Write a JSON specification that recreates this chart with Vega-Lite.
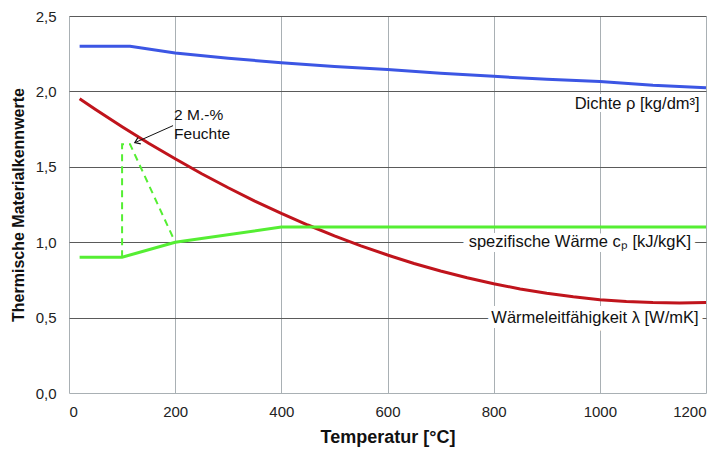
{
  "$schema": "https://vega.github.io/schema/vega-lite/v6.json",
  "width": 637,
  "height": 377,
  "autosize": {"type": "none"},
  "padding": {"left": 69, "top": 16, "right": 20, "bottom": 63},
  "background": "white",
  "config": {
    "font": "Liberation Sans",
    "view": {"stroke": null},
    "axis": {"labelFont": "Liberation Sans", "titleFont": "Liberation Sans", "labelColor": "#222", "titleColor": "#111"}
  },
  "datasets": {
    "lines": [
      {"series": "rho", "T": 20, "v": 2.30},
      {"series": "rho", "T": 115, "v": 2.30},
      {"series": "rho", "T": 200, "v": 2.255},
      {"series": "rho", "T": 300, "v": 2.22},
      {"series": "rho", "T": 400, "v": 2.19},
      {"series": "rho", "T": 500, "v": 2.165},
      {"series": "rho", "T": 600, "v": 2.145},
      {"series": "rho", "T": 700, "v": 2.12},
      {"series": "rho", "T": 800, "v": 2.10},
      {"series": "rho", "T": 900, "v": 2.08},
      {"series": "rho", "T": 1000, "v": 2.065},
      {"series": "rho", "T": 1100, "v": 2.04},
      {"series": "rho", "T": 1200, "v": 2.025},
      {"series": "lambda", "T": 20, "v": 1.951},
      {"series": "lambda", "T": 50, "v": 1.88},
      {"series": "lambda", "T": 100, "v": 1.766},
      {"series": "lambda", "T": 150, "v": 1.656},
      {"series": "lambda", "T": 200, "v": 1.553},
      {"series": "lambda", "T": 250, "v": 1.454},
      {"series": "lambda", "T": 300, "v": 1.361},
      {"series": "lambda", "T": 350, "v": 1.273},
      {"series": "lambda", "T": 400, "v": 1.191},
      {"series": "lambda", "T": 450, "v": 1.114},
      {"series": "lambda", "T": 500, "v": 1.042},
      {"series": "lambda", "T": 550, "v": 0.976},
      {"series": "lambda", "T": 600, "v": 0.915},
      {"series": "lambda", "T": 650, "v": 0.859},
      {"series": "lambda", "T": 700, "v": 0.809},
      {"series": "lambda", "T": 750, "v": 0.764},
      {"series": "lambda", "T": 800, "v": 0.724},
      {"series": "lambda", "T": 850, "v": 0.690},
      {"series": "lambda", "T": 900, "v": 0.661},
      {"series": "lambda", "T": 950, "v": 0.638},
      {"series": "lambda", "T": 1000, "v": 0.619},
      {"series": "lambda", "T": 1050, "v": 0.607},
      {"series": "lambda", "T": 1100, "v": 0.600},
      {"series": "lambda", "T": 1150, "v": 0.597},
      {"series": "lambda", "T": 1200, "v": 0.600},
      {"series": "cp", "T": 20, "v": 0.9},
      {"series": "cp", "T": 100, "v": 0.9},
      {"series": "cp", "T": 200, "v": 1.0},
      {"series": "cp", "T": 400, "v": 1.1},
      {"series": "cp", "T": 1200, "v": 1.1},
      {"series": "cpm", "T": 100, "v": 0.9},
      {"series": "cpm", "T": 100, "v": 1.65},
      {"series": "cpm", "T": 115, "v": 1.65},
      {"series": "cpm", "T": 200, "v": 1.0}
    ],
    "labels": [
      {"T": 1188, "v": 1.915, "label": "Dichte ρ [kg/dm³]", "halo": 6},
      {"T": 1172, "v": 1.0, "label": "spezifische Wärme cₚ [kJ/kgK]", "halo": 10},
      {"T": 1186, "v": 0.5, "label": "Wärmeleitfähigkeit λ [W/mK]", "halo": 10}
    ],
    "note": [
      {"T": 198, "v": 1.846, "label": "2 M.-%"},
      {"T": 198, "v": 1.72, "label": "Feuchte"}
    ],
    "arrow": [
      {"T": 196, "v": 1.773, "T2": 124, "v2": 1.66}
    ]
  },
  "encoding": {
    "x": {
      "field": "T", "type": "quantitative",
      "scale": {"domain": [0, 1200], "nice": false},
      "axis": {
        "values": [0, 200, 400, 600, 800, 1000, 1200],
        "format": "d",
        "title": "Temperatur [°C]",
        "titleFontSize": 18, "titleFontWeight": "bold", "titlePadding": 9,
        "labelFontSize": 15, "labelPadding": 11,
        "ticks": false, "domain": false,
        "grid": true, "gridColor": "#a9b0b4", "gridWidth": 1
      }
    },
    "y": {
      "field": "v", "type": "quantitative",
      "scale": {"domain": [0, 2.5], "nice": false},
      "axis": {
        "values": [0, 0.5, 1, 1.5, 2, 2.5],
        "labelExpr": "replace(format(datum.value, '.1f'), '.', ',')",
        "title": "Thermische Materialkennwerte",
        "titleFontSize": 16, "titleFontWeight": "bold", "titlePadding": 9,
        "labelFontSize": 15, "labelPadding": 13,
        "ticks": false, "domain": false,
        "grid": true,
        "gridColor": {"condition": {"test": "datum.value == 0", "value": "#a9b0b4"}, "value": "#5a5a5a"},
        "gridWidth": 1
      }
    }
  },
  "layer": [
    {
      "data": {"name": "labels"},
      "mark": {"type": "text", "align": "right", "baseline": "middle", "fontSize": 16.5, "stroke": "white", "fill": "white", "font": "Liberation Sans"},
      "encoding": {"text": {"field": "label"}, "strokeWidth": {"field": "halo", "type": "quantitative", "scale": null}}
    },
    {
      "data": {"name": "labels"},
      "mark": {"type": "text", "align": "right", "baseline": "middle", "fontSize": 16.5, "fill": "#111", "font": "Liberation Sans"},
      "encoding": {"text": {"field": "label"}}
    },
    {
      "data": {"name": "lines"},
      "transform": [{"filter": "datum.series != 'cpm'"}],
      "mark": {"type": "line", "strokeWidth": 3},
      "encoding": {
        "detail": {"field": "series"},
        "color": {
          "field": "series", "type": "nominal",
          "scale": {"domain": ["rho", "lambda", "cp"], "range": ["#3c56e4", "#c0141c", "#55ee33"]},
          "legend": null
        }
      }
    },
    {
      "data": {"name": "lines"},
      "transform": [{"filter": "datum.series == 'cpm'"}],
      "mark": {"type": "line", "strokeWidth": 2, "strokeDash": [7, 5], "color": "#55ee33"},
      "encoding": {"order": {"value": 0}}
    },
    {
      "data": {"name": "note"},
      "mark": {"type": "text", "align": "left", "baseline": "middle", "fontSize": 15.5, "fill": "#111", "font": "Liberation Sans"},
      "encoding": {"text": {"field": "label"}}
    },
    {
      "data": {"name": "arrow"},
      "mark": {"type": "rule", "color": "#111", "strokeWidth": 1},
      "encoding": {"x2": {"field": "T2"}, "y2": {"field": "v2"}}
    },
    {
      "data": {"name": "arrow"},
      "mark": {"type": "point", "shape": "M-1,-0.7L0,0L-1,0.7", "filled": false, "stroke": "#111", "strokeWidth": 1.2, "size": 100, "angle": 156, "opacity": 1},
      "encoding": {"x": {"field": "T2", "type": "quantitative"}, "y": {"field": "v2", "type": "quantitative"}}
    }
  ]
}
